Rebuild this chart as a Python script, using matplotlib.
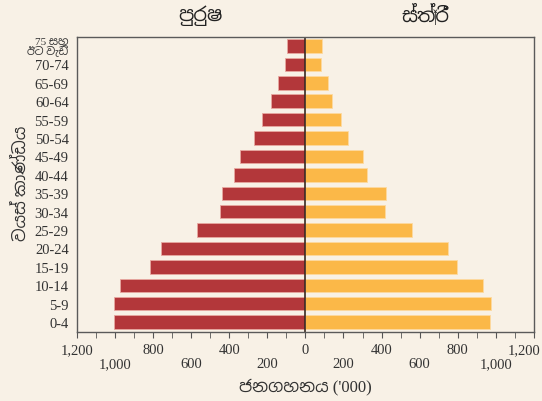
import matplotlib
matplotlib.use("Agg")
import matplotlib.pyplot as plt
import matplotlib.transforms as mtransforms
from matplotlib import font_manager

# age groups, bottom to top
age_groups = ["0-4", "5-9", "10-14", "15-19", "20-24", "25-29", "30-34", "35-39",
              "40-44", "45-49", "50-54", "55-59", "60-64", "65-69", "70-74",
              "75 සහ\nඊට වැඩි"]
male = [1004, 1006, 974, 817, 757, 568, 447, 437, 374, 344, 270, 228, 180, 146, 108, 97]
female = [971, 976, 934, 794, 747, 561, 416, 424, 321, 302, 225, 186, 139, 116, 81, 87]

xticks = [-1200, -1000, -800, -600, -400, -200, 0, 200, 400, 600, 800, 1000, 1200]

# look for anything that can draw sinhala
sinhala = [f.name for f in font_manager.fontManager.ttflist if "Sinhala" in f.name]
fams = ["Liberation Serif"] + sinhala[:1] + ["DejaVu Sans"]
plt.rcParams["font.family"] = fams

bg = "#f8f1e6"
fig = plt.figure(figsize=(5.42, 4.02), dpi=100, facecolor=bg)
ax = fig.add_axes([0.142, 0.172, 0.843, 0.734], facecolor=bg)

y = range(len(age_groups))
ax.barh(y, [-m for m in male], height=0.73, color="#b3373a", edgecolor="#e8a8a0", linewidth=0.6)
ax.barh(y, female, height=0.73, color="#fbb848", edgecolor="#fdd9a0", linewidth=0.6)
ax.axvline(0, color="#3a2a22", lw=1.2)

ax.set_xlim(-1200, 1200)
ax.set_ylim(-0.53, 15.5)
ax.set_yticks(list(y))
ax.set_yticklabels(age_groups, fontsize=10.5, color="#333333")
ax.tick_params(axis="y", length=0, pad=6)
top_lbl = ax.get_yticklabels()[-1]
top_lbl.set_fontsize(8)
top_lbl.set_linespacing(0.85)
top_lbl.set_fontweight("light")

ax.set_xticks(xticks)
ax.set_xticklabels([f"{abs(v):,}" for v in xticks], fontsize=10.5, color="#333333")
ax.set_xticks(range(-1100, 1200, 200), minor=True)
ax.tick_params(axis="x", which="both", direction="out", length=4, color="#555555")
for i, t in enumerate(ax.xaxis.get_major_ticks()):
    t.set_pad(14 if i % 2 else 4)
# last label sits a bit left so it stays inside
last = ax.get_xticklabels()[-1]
last.set_transform(last.get_transform() + mtransforms.ScaledTranslation(-0.1, 0, fig.dpi_scale_trans))

for s in ax.spines.values():
    s.set_color("#5a5a5a")
    s.set_linewidth(1.0)

ax.set_xlabel("ජනගහනය ('000)", fontsize=12, color="#333333", labelpad=6, fontweight="light")
fig.text(0.04, 0.545, "වයස් කාණ්ඩය", rotation=90, ha="center", va="center",
         fontsize=12, color="#333333", fontweight="light")
fig.text(0.369, 0.962, "පුරුෂ", ha="center", va="center", fontsize=14, color="#222222")
fig.text(0.784, 0.962, "ස්ත්‍රී", ha="center", va="center", fontsize=14, color="#222222")

fig.savefig("out.png", dpi=100, facecolor=bg)
